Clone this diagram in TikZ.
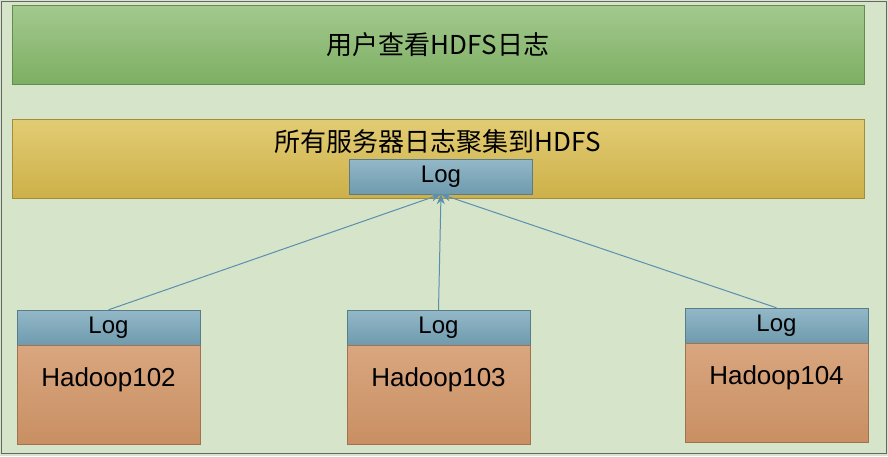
\documentclass[tikz,border=0pt]{standalone}
\usepackage{fontspec}
\setmainfont{Liberation Sans}
\newfontfamily\cjk{Noto Sans CJK SC}
\usetikzlibrary{arrows.meta}
\definecolor{bg}{HTML}{D6E4C9}
\definecolor{gtop}{HTML}{A3C98E}\definecolor{gbot}{HTML}{7DAF63}
\definecolor{ytop}{HTML}{E2CC74}\definecolor{ybot}{HTML}{CDB048}
\definecolor{btop}{HTML}{93B8C8}\definecolor{bbot}{HTML}{6F9BAE}
\definecolor{otop}{HTML}{D9A67F}\definecolor{obot}{HTML}{C98F63}
\definecolor{ln}{HTML}{5B8FB0}
\tikzset{
 logbox/.style={draw=bbot!80!black, top color=btop, bottom color=bbot, minimum width=183pt, minimum height=35pt, inner sep=0pt, font=\fontsize{24}{26}\selectfont},
 hbox/.style={draw=obot!80!black, top color=otop, bottom color=obot, minimum width=183pt, minimum height=99pt, inner sep=0pt},
 htext/.style={font=\fontsize{26}{28}\selectfont},
 conn/.style={draw=ln, -{Stealth[length=10pt,width=8pt]}, line width=1pt}
}
\begin{document}
\begin{tikzpicture}[x=1pt,y=-1pt]
\useasboundingbox (0,0) rectangle (888,456);
\fill[bg] (0,0) rectangle (888,456);
\draw[black!60] (1,1) rectangle (886,453);
\node[draw=gbot!80!black, top color=gtop, bottom color=gbot, minimum width=852pt, minimum height=79pt, inner sep=0pt, font=\cjk\fontsize{26}{28}\selectfont] (top) at (438,44.5) {用户查看HDFS日志};
\node[draw=ybot!80!black, top color=ytop, bottom color=ybot, minimum width=852pt, minimum height=79pt, inner sep=0pt] (mid) at (438,158.5) {};
\node[font=\cjk\fontsize{26}{28}\selectfont] (midt) at (438,142) {所有服务器日志聚集到HDFS};
\node[logbox] (clog) at (441,176.5) {Log};
\node[logbox] (l1) at (108.5,327.5) {Log};
\node[hbox, anchor=north] (h1) at (l1.south) {};
\node[htext] (t1) at (108.5,380) {Hadoop102};
\node[logbox] (l2) at (438.5,327.5) {Log};
\node[hbox, anchor=north] (h2) at (l2.south) {};
\node[htext] (t2) at (438.5,380) {Hadoop103};
\node[logbox] (l3) at (776.5,325.5) {Log};
\node[hbox, anchor=north] (h3) at (l3.south) {};
\node[htext] (t3) at (776.5,378) {Hadoop104};
\draw[conn] (l1.north) -- (clog.south);
\draw[conn] (l2.north) -- (clog.south);
\draw[conn] (l3.north) -- (clog.south);
\end{tikzpicture}
\end{document}
